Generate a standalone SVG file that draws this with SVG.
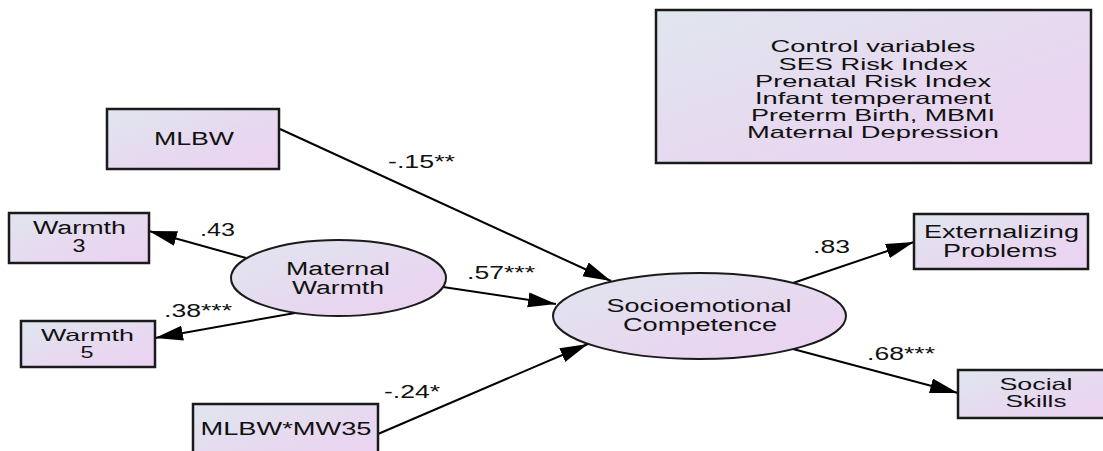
<svg xmlns="http://www.w3.org/2000/svg" width="1103" height="451" viewBox="0 0 1103 451">
<defs>
<linearGradient id="fill" x1="0" y1="0" x2="1" y2="1">
<stop offset="0" stop-color="#dfe6ee"/>
<stop offset="0.6" stop-color="#e8d8f0"/>
<stop offset="1" stop-color="#ebd2f2"/>
</linearGradient>
<marker id="arr" markerUnits="userSpaceOnUse" markerWidth="30" markerHeight="16" refX="28" refY="7.5" orient="auto">
<path d="M0,0 L28,7.5 L0,15 Z" fill="#000"/>
</marker>
<style>
.box{fill:url(#fill);stroke:#1a1a1a;stroke-width:2.5}
.ell{fill:url(#fill);stroke:#1a1a1a;stroke-width:2}
.t{font-family:"Liberation Sans",Arial,sans-serif;font-size:18px;fill:#111;text-anchor:middle}
.s{font-size:16.5px}
.c{font-family:"Liberation Sans",Arial,sans-serif;font-size:16.5px;fill:#111;text-anchor:middle}
.l{font-family:"Liberation Sans",Arial,sans-serif;font-size:18px;fill:#111}
.e{stroke:#000;stroke-width:2;fill:none;marker-end:url(#arr)}
</style>
</defs>
<rect width="1103" height="451" fill="#fff"/>
<g id="connectors">
<line class="e" x1="280" y1="129" x2="611" y2="281"/>
<line class="e" x1="443" y1="287" x2="556" y2="304"/>
<line class="e" x1="378" y1="434" x2="588" y2="344"/>
<line class="e" x1="246" y1="258" x2="149" y2="231"/>
<line class="e" x1="295" y1="313" x2="155" y2="338"/>
<line class="e" x1="793" y1="283" x2="914" y2="242"/>
<line class="e" x1="793" y1="349" x2="958" y2="393"/>
<text class="l" x="388" y="168" textLength="67" lengthAdjust="spacingAndGlyphs">-.15**</text>
<text class="l" x="200" y="236" textLength="35" lengthAdjust="spacingAndGlyphs">.43</text>
<text class="l" x="164" y="317" textLength="68" lengthAdjust="spacingAndGlyphs">.38***</text>
<text class="l" x="467" y="279" textLength="68" lengthAdjust="spacingAndGlyphs">.57***</text>
<text class="l" x="384" y="398" textLength="56" lengthAdjust="spacingAndGlyphs">-.24*</text>
<text class="l" x="813" y="253" textLength="37" lengthAdjust="spacingAndGlyphs">.83</text>
<text class="l" x="867" y="360" textLength="68" lengthAdjust="spacingAndGlyphs">.68***</text>
</g>
<g id="controls">
<rect class="box" x="656" y="10" width="435" height="153"/>
<text class="c" x="873" y="52" textLength="205" lengthAdjust="spacingAndGlyphs">Control variables</text>
<text class="c" x="873" y="70" textLength="189" lengthAdjust="spacingAndGlyphs">SES Risk Index</text>
<text class="c" x="873" y="87" textLength="236" lengthAdjust="spacingAndGlyphs">Prenatal Risk Index</text>
<text class="c" x="873" y="104" textLength="236" lengthAdjust="spacingAndGlyphs">Infant temperament</text>
<text class="c" x="873" y="121" textLength="244" lengthAdjust="spacingAndGlyphs">Preterm Birth, MBMI</text>
<text class="c" x="873" y="138" textLength="252" lengthAdjust="spacingAndGlyphs">Maternal Depression</text>
</g>
<g id="mlbw">
<rect class="box" x="107" y="109" width="172" height="60"/>
<text class="t" x="194" y="145" textLength="80" lengthAdjust="spacingAndGlyphs">MLBW</text>
</g>
<g id="warmth3">
<rect class="box" x="9" y="213" width="140" height="50"/>
<text class="t" x="79.5" y="234" textLength="93" lengthAdjust="spacingAndGlyphs">Warmth</text>
<text class="t" x="79" y="252" textLength="13" lengthAdjust="spacingAndGlyphs">3</text>
</g>
<g id="warmth5">
<rect class="box" x="21" y="321" width="134" height="46"/>
<text class="t s" x="87.5" y="341" textLength="93" lengthAdjust="spacingAndGlyphs">Warmth</text>
<text class="t s" x="87" y="358" textLength="13" lengthAdjust="spacingAndGlyphs">5</text>
</g>
<g id="maternalWarmth">
<ellipse class="ell" cx="338.5" cy="278" rx="107.5" ry="38"/>
<text class="t" x="338" y="275" textLength="104" lengthAdjust="spacingAndGlyphs">Maternal</text>
<text class="t" x="338" y="294" textLength="92" lengthAdjust="spacingAndGlyphs">Warmth</text>
</g>
<g id="mlbwmw35">
<rect class="box" x="193" y="404" width="185" height="62"/>
<text class="t" x="286" y="435" textLength="171" lengthAdjust="spacingAndGlyphs">MLBW*MW35</text>
</g>
<g id="socioemotional">
<ellipse class="ell" cx="699.5" cy="316" rx="146.5" ry="43"/>
<text class="t" x="699" y="312" textLength="185" lengthAdjust="spacingAndGlyphs">Socioemotional</text>
<text class="t" x="700" y="331" textLength="154" lengthAdjust="spacingAndGlyphs">Competence</text>
</g>
<g id="externalizing">
<rect class="box" x="914" y="214" width="174" height="55"/>
<text class="t" x="1001.5" y="238" textLength="155" lengthAdjust="spacingAndGlyphs">Externalizing</text>
<text class="t" x="1000" y="257" textLength="114" lengthAdjust="spacingAndGlyphs">Problems</text>
</g>
<g id="socialSkills">
<rect class="box" x="958" y="370" width="158" height="48"/>
<text class="t s" x="1036" y="390" textLength="73" lengthAdjust="spacingAndGlyphs">Social</text>
<text class="t s" x="1036" y="407" textLength="61" lengthAdjust="spacingAndGlyphs">Skills</text>
</g>
</svg>
